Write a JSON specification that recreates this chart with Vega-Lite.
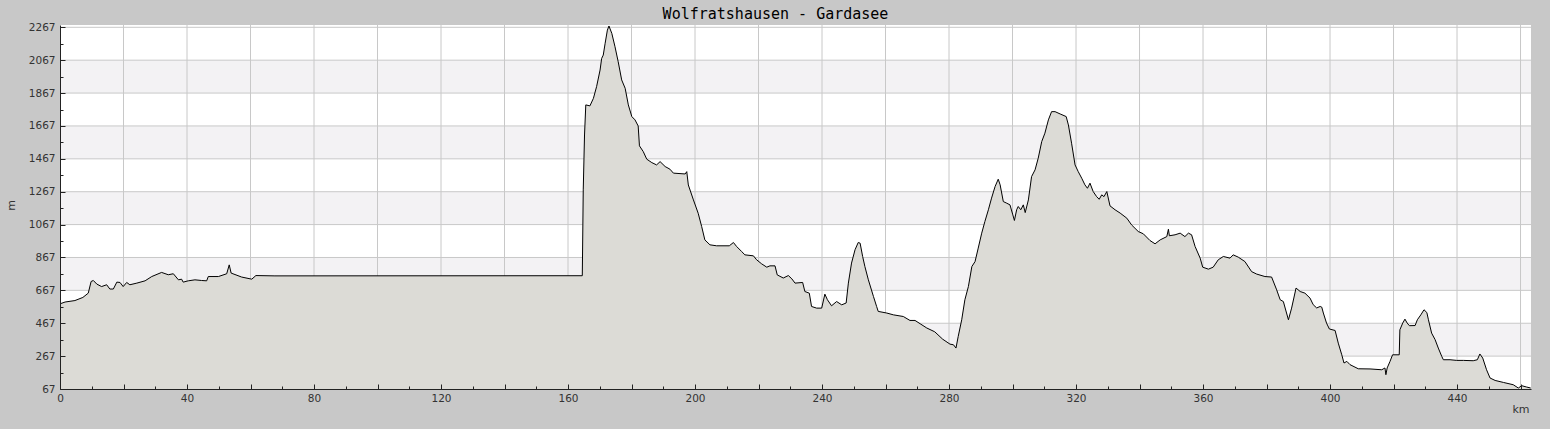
{
  "$schema": "https://vega.github.io/schema/vega-lite/v6.json",
  "width": 1471,
  "height": 364,
  "autosize": {"type": "none"},
  "padding": {"left": 60, "top": 25, "right": 19, "bottom": 40},
  "background": "#c8c8c8",
  "title": {"text": "Wolfratshausen - Gardasee", "font": "DejaVu Sans Mono", "fontSize": 15, "fontWeight": "normal", "color": "#000", "anchor": "middle", "dx": -20, "dy": 16, "baseline": "alphabetic", "offset": 4},
  "config": {
    "view": {"stroke": null, "fill": "#ffffff"},
    "axis": {"labelFont": "DejaVu Sans", "labelFontSize": 10.5, "labelColor": "#333", "titleFont": "DejaVu Sans", "titleFontSize": 11, "titleFontWeight": "normal", "titleColor": "#333", "domainColor": "#222", "tickColor": "#222", "grid": false, "labelFlush": false, "zindex": 1}
  },
  "resolve": {"axis": {"x": "independent", "y": "independent"}},
  "datasets": {
    "bands": [
      {"lo": 1867, "hi": 2067}, {"lo": 1467, "hi": 1667}, {"lo": 1067, "hi": 1267}, {"lo": 667, "hi": 867}, {"lo": 267, "hi": 467}
    ],
    "hgrid": [
      {"m": 67}, {"m": 267}, {"m": 467}, {"m": 667}, {"m": 867}, {"m": 1067}, {"m": 1267}, {"m": 1467}, {"m": 1667}, {"m": 1867}, {"m": 2067}, {"m": 2267}
    ],
    "vgrid": [
      {"km": 20}, {"km": 40}, {"km": 60}, {"km": 80}, {"km": 100}, {"km": 120}, {"km": 140}, {"km": 160}, {"km": 180}, {"km": 200}, {"km": 220}, {"km": 240}, {"km": 260}, {"km": 280}, {"km": 300}, {"km": 320}, {"km": 340}, {"km": 360}, {"km": 380}, {"km": 400}, {"km": 420}, {"km": 440}, {"km": 460}
    ],
    "profile": [
      {"km": 0, "m": 585}, {"km": 1.6, "m": 596}, {"km": 4.7, "m": 605}, {"km": 7.2, "m": 624}, {"km": 8.9, "m": 650}, {"km": 9.8, "m": 721}, {"km": 10.5, "m": 727}, {"km": 11.6, "m": 705}, {"km": 13.1, "m": 690}, {"km": 14.7, "m": 701}, {"km": 15.7, "m": 675}, {"km": 16.8, "m": 675}, {"km": 17.9, "m": 717}, {"km": 18.9, "m": 715}, {"km": 19.9, "m": 690}, {"km": 21.0, "m": 715}, {"km": 22.0, "m": 701}, {"km": 24.2, "m": 711}, {"km": 26.8, "m": 725}, {"km": 28.9, "m": 751}, {"km": 32.0, "m": 776}, {"km": 34.1, "m": 762}, {"km": 35.7, "m": 768}, {"km": 37.3, "m": 731}, {"km": 38.3, "m": 735}, {"km": 38.8, "m": 717}, {"km": 40.4, "m": 725}, {"km": 42.5, "m": 731}, {"km": 44.6, "m": 727}, {"km": 46.2, "m": 725}, {"km": 46.7, "m": 751}, {"km": 49.9, "m": 751}, {"km": 52.5, "m": 768}, {"km": 53.3, "m": 822}, {"km": 53.9, "m": 772}, {"km": 57.2, "m": 748}, {"km": 60.4, "m": 735}, {"km": 61.7, "m": 757}, {"km": 67.7, "m": 755}, {"km": 164.5, "m": 756},
      {"km": 164.8, "m": 1278}, {"km": 165.2, "m": 1612}, {"km": 165.6, "m": 1795}, {"km": 166.9, "m": 1789}, {"km": 168.0, "m": 1835}, {"km": 169.0, "m": 1906}, {"km": 170.1, "m": 2007}, {"km": 170.6, "m": 2078}, {"km": 171.1, "m": 2098}, {"km": 171.7, "m": 2170}, {"km": 172.4, "m": 2250}, {"km": 172.9, "m": 2275}, {"km": 173.8, "m": 2230}, {"km": 174.8, "m": 2149}, {"km": 175.8, "m": 2058}, {"km": 176.9, "m": 1947}, {"km": 178.0, "m": 1896}, {"km": 179.0, "m": 1795}, {"km": 180.1, "m": 1724}, {"km": 181.1, "m": 1704}, {"km": 182.1, "m": 1667}, {"km": 182.5, "m": 1546}, {"km": 183.7, "m": 1511}, {"km": 184.8, "m": 1465}, {"km": 186.4, "m": 1444}, {"km": 187.9, "m": 1430}, {"km": 189.0, "m": 1450}, {"km": 190.6, "m": 1420}, {"km": 192.1, "m": 1404}, {"km": 193.2, "m": 1380}, {"km": 196.9, "m": 1375}, {"km": 197.4, "m": 1389}, {"km": 197.9, "m": 1308}, {"km": 199.5, "m": 1217}, {"km": 201.0, "m": 1136}, {"km": 202.1, "m": 1055}, {"km": 203.1, "m": 974}, {"km": 204.7, "m": 944}, {"km": 206.8, "m": 938}, {"km": 210.8, "m": 938},
      {"km": 212.1, "m": 958}, {"km": 213.1, "m": 934}, {"km": 214.7, "m": 903}, {"km": 215.7, "m": 883}, {"km": 218.4, "m": 877}, {"km": 219.4, "m": 853}, {"km": 221.0, "m": 828}, {"km": 222.6, "m": 808}, {"km": 223.6, "m": 816}, {"km": 225.2, "m": 816}, {"km": 225.9, "m": 761}, {"km": 227.8, "m": 742}, {"km": 229.4, "m": 757}, {"km": 230.5, "m": 737}, {"km": 231.5, "m": 711}, {"km": 233.9, "m": 715}, {"km": 234.6, "m": 660}, {"km": 236.0, "m": 650}, {"km": 236.7, "m": 569}, {"km": 238.3, "m": 559}, {"km": 239.9, "m": 559}, {"km": 240.9, "m": 644}, {"km": 241.7, "m": 610}, {"km": 243.0, "m": 573}, {"km": 244.6, "m": 599}, {"km": 246.2, "m": 579}, {"km": 247.6, "m": 590}, {"km": 248.3, "m": 711}, {"km": 249.3, "m": 833}, {"km": 250.4, "m": 914}, {"km": 251.4, "m": 958}, {"km": 252.0, "m": 954}, {"km": 252.8, "m": 873}, {"km": 253.5, "m": 812}, {"km": 254.6, "m": 731}, {"km": 256.2, "m": 630}, {"km": 257.2, "m": 569}, {"km": 257.7, "m": 539}, {"km": 260.4, "m": 529}, {"km": 262.5, "m": 518}, {"km": 265.6, "m": 508}, {"km": 267.7, "m": 484}, {"km": 269.3, "m": 484}, {"km": 270.9, "m": 464}, {"km": 273.0, "m": 438}, {"km": 275.5, "m": 415}, {"km": 278.0, "m": 370}, {"km": 280.3, "m": 340}, {"km": 281.4, "m": 336}, {"km": 282.2, "m": 316},
      {"km": 282.9, "m": 387}, {"km": 284.0, "m": 488}, {"km": 285.0, "m": 610}, {"km": 286.1, "m": 690}, {"km": 287.2, "m": 812}, {"km": 288.2, "m": 842}, {"km": 289.2, "m": 924}, {"km": 290.3, "m": 1015}, {"km": 291.3, "m": 1086}, {"km": 292.4, "m": 1157}, {"km": 293.4, "m": 1228}, {"km": 294.5, "m": 1298}, {"km": 295.5, "m": 1343}, {"km": 296.1, "m": 1309}, {"km": 297.1, "m": 1207}, {"km": 298.2, "m": 1197}, {"km": 299.2, "m": 1187}, {"km": 300.1, "m": 1126}, {"km": 300.6, "m": 1092}, {"km": 301.3, "m": 1157}, {"km": 301.8, "m": 1177}, {"km": 302.6, "m": 1157}, {"km": 303.4, "m": 1187}, {"km": 304.0, "m": 1140}, {"km": 305.0, "m": 1217}, {"km": 306.0, "m": 1359}, {"km": 307.1, "m": 1400}, {"km": 308.1, "m": 1471}, {"km": 309.2, "m": 1572}, {"km": 310.2, "m": 1623}, {"km": 311.3, "m": 1704}, {"km": 312.3, "m": 1754}, {"km": 313.4, "m": 1754}, {"km": 315.0, "m": 1740}, {"km": 316.9, "m": 1724}, {"km": 317.6, "m": 1673}, {"km": 318.6, "m": 1562}, {"km": 319.7, "m": 1430}, {"km": 320.7, "m": 1389}, {"km": 321.8, "m": 1349}, {"km": 322.8, "m": 1309}, {"km": 323.6, "m": 1288}, {"km": 324.4, "m": 1319}, {"km": 325.4, "m": 1268}, {"km": 326.5, "m": 1237}, {"km": 327.3, "m": 1221}, {"km": 328.1, "m": 1248}, {"km": 328.8, "m": 1237}, {"km": 329.7, "m": 1268}, {"km": 330.7, "m": 1181}, {"km": 332.3, "m": 1157}, {"km": 333.9, "m": 1137},
      {"km": 336.0, "m": 1106}, {"km": 337.5, "m": 1065}, {"km": 339.6, "m": 1025}, {"km": 341.2, "m": 1011}, {"km": 343.3, "m": 970}, {"km": 344.9, "m": 950}, {"km": 346.5, "m": 974}, {"km": 348.6, "m": 994}, {"km": 349.1, "m": 1039}, {"km": 349.4, "m": 999}, {"km": 351.2, "m": 1005}, {"km": 352.8, "m": 1015}, {"km": 354.3, "m": 994}, {"km": 355.4, "m": 1015}, {"km": 356.4, "m": 1005}, {"km": 357.5, "m": 934}, {"km": 359.1, "m": 863}, {"km": 359.9, "m": 808}, {"km": 361.7, "m": 796}, {"km": 363.2, "m": 808}, {"km": 364.8, "m": 853}, {"km": 366.4, "m": 873}, {"km": 368.5, "m": 863}, {"km": 369.5, "m": 883}, {"km": 371.1, "m": 869}, {"km": 373.2, "m": 842}, {"km": 375.3, "m": 781}, {"km": 376.9, "m": 766}, {"km": 379.5, "m": 751}, {"km": 381.6, "m": 748}, {"km": 383.2, "m": 670}, {"km": 384.3, "m": 610}, {"km": 385.3, "m": 599}, {"km": 386.9, "m": 488}, {"km": 387.9, "m": 559}, {"km": 389.3, "m": 681}, {"km": 390.6, "m": 660}, {"km": 392.1, "m": 650}, {"km": 393.7, "m": 620}, {"km": 394.7, "m": 580}, {"km": 395.8, "m": 560}, {"km": 396.9, "m": 569}, {"km": 397.4, "m": 565},
      {"km": 397.9, "m": 529}, {"km": 398.9, "m": 468}, {"km": 399.8, "m": 432}, {"km": 401.6, "m": 423}, {"km": 402.6, "m": 346}, {"km": 403.7, "m": 275}, {"km": 404.4, "m": 225}, {"km": 405.3, "m": 235}, {"km": 406.3, "m": 215}, {"km": 408.9, "m": 190}, {"km": 412.6, "m": 189}, {"km": 416.3, "m": 184}, {"km": 417.3, "m": 195}, {"km": 417.6, "m": 154}, {"km": 418.0, "m": 195}, {"km": 418.9, "m": 235}, {"km": 419.7, "m": 275}, {"km": 421.8, "m": 275}, {"km": 422.0, "m": 427}, {"km": 422.9, "m": 468}, {"km": 423.6, "m": 492}, {"km": 424.3, "m": 468}, {"km": 425.0, "m": 452}, {"km": 426.8, "m": 453}, {"km": 427.5, "m": 488}, {"km": 428.6, "m": 518}, {"km": 429.6, "m": 549}, {"km": 430.5, "m": 532}, {"km": 431.0, "m": 488}, {"km": 432.0, "m": 407}, {"km": 433.1, "m": 367}, {"km": 434.1, "m": 316}, {"km": 435.2, "m": 265}, {"km": 435.7, "m": 245}, {"km": 437.8, "m": 245}, {"km": 439.9, "m": 241}, {"km": 442.0, "m": 241}, {"km": 445.1, "m": 239}, {"km": 446.4, "m": 245}, {"km": 447.2, "m": 280}, {"km": 448.1, "m": 255}, {"km": 449.3, "m": 184}, {"km": 450.4, "m": 134}, {"km": 452.0, "m": 119}, {"km": 454.6, "m": 107}, {"km": 457.7, "m": 93}, {"km": 459.3, "m": 73}, {"km": 460.4, "m": 87}, {"km": 461.9, "m": 79}, {"km": 463.2, "m": 73}
    ]
  },
  "layer": [
    {
      "data": {"name": "bands"},
      "mark": {"type": "rect", "fill": "#f3f2f4"},
      "encoding": {
        "y": {
          "field": "lo", "type": "quantitative", "title": "m",
          "scale": {"domain": [67, 2281], "nice": false, "zero": false},
          "axis": {
            "orient": "left",
            "values": [67,267,467,667,867,1067,1267,1467,1667,1867,2067,2267],
            "format": "d",
            "tickSize": -5,
            "labelPadding": 10,
            "labelOverlap": false,
            "title": "m",
            "titleAngle": -90,
            "titleAlign": "center",
            "titleBaseline": "middle",
            "titleX": -49,
            "titleY": 180,
            "zindex": 1
          }
        },
        "y2": {"field": "hi"}
      }
    },
    {
      "data": {"name": "hgrid"},
      "mark": {"type": "rule", "stroke": "#c8c8c8", "strokeWidth": 1},
      "encoding": {
        "y": {
          "field": "m", "type": "quantitative",
          "scale": {"domain": [67, 2281], "nice": false, "zero": false},
          "axis": {"orient": "left", "values": [167,367,567,767,967,1167,1367,1567,1767,1967,2167], "tickSize": -3, "labels": false, "domain": false, "title": null, "zindex": 1}
        }
      }
    },
    {
      "data": {"name": "vgrid"},
      "mark": {"type": "rule", "stroke": "#c8c8c8", "strokeWidth": 1},
      "encoding": {
        "x": {
          "field": "km", "type": "quantitative",
          "scale": {"domain": [0, 463.3], "nice": false, "zero": false},
          "axis": {
            "orient": "bottom",
            "values": [0,40,80,120,160,200,240,280,320,360,400,440],
            "tickSize": -5,
            "labelPadding": 9,
            "labelOverlap": false,
            "title": "km",
            "titleAnchor": "end",
            "titleAlign": "right",
            "titleBaseline": "alphabetic",
            "titleX": 1469,
            "titleY": 23,
            "zindex": 1
          }
        }
      }
    },
    {
      "data": {"name": "profile"},
      "mark": {"type": "area", "fill": "#dcdbd6", "opacity": 1, "fillOpacity": 1, "clip": true},
      "encoding": {
        "x": {
          "field": "km", "type": "quantitative",
          "scale": {"domain": [0, 463.3], "nice": false, "zero": false},
          "axis": {"orient": "bottom", "values": [20,60,100,140,180,220,260,300,340,380,420,460], "tickSize": -5, "labels": false, "domain": false, "title": null, "zindex": 1}
        },
        "y": {"field": "m", "type": "quantitative", "scale": {"domain": [67, 2281], "nice": false, "zero": false}, "axis": null}
      }
    },
    {
      "data": {"name": "profile"},
      "mark": {"type": "line", "stroke": "#000", "strokeWidth": 1, "clip": true},
      "encoding": {
        "x": {
          "field": "km", "type": "quantitative",
          "scale": {"domain": [0, 463.3], "nice": false, "zero": false},
          "axis": {"orient": "bottom", "values": [10,30,50,70,90,110,130,150,170,190,210,230,250,270,290,310,330,350,370,390,410,430,450], "tickSize": -3, "labels": false, "domain": false, "title": null, "zindex": 1}
        },
        "y": {"field": "m", "type": "quantitative", "scale": {"domain": [67, 2281], "nice": false, "zero": false}, "axis": null}
      }
    }
  ]
}
